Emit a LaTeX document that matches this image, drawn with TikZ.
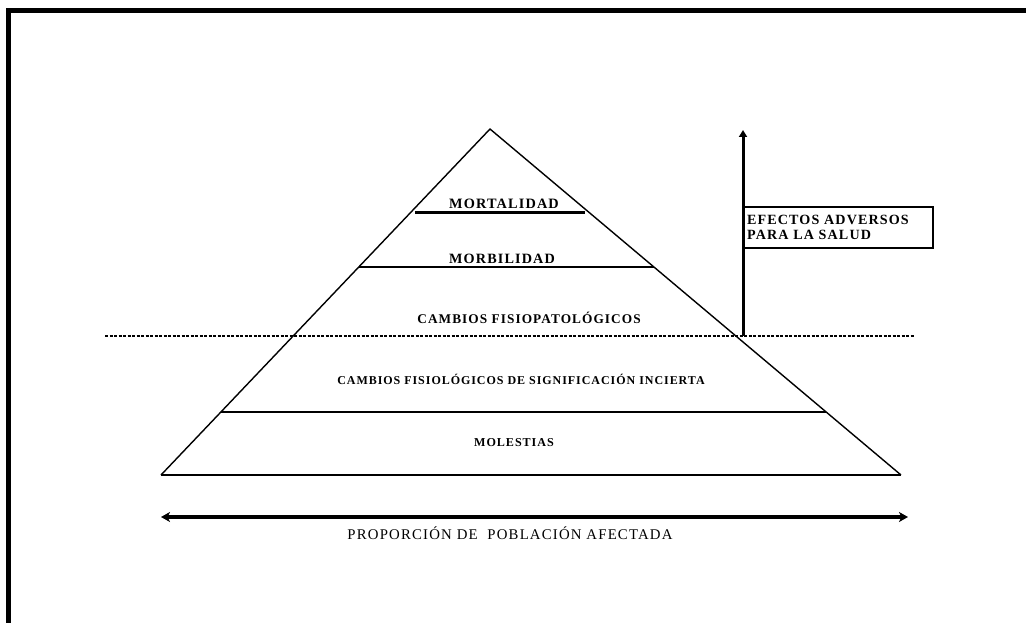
\documentclass[tikz,border=0pt]{standalone}
\usepackage{fontspec}
\setmainfont{Liberation Serif}
\newfontfamily\levelfont[LetterSpace=8]{Liberation Serif}
\newfontfamily\axisfont[LetterSpace=8]{Liberation Serif}
\usetikzlibrary{arrows.meta,calc}

\begin{document}
\begin{tikzpicture}[x=1pt,y=-1pt,
   level/.style={font=\levelfont\bfseries\fontsize{#1}{#1}\selectfont, inner sep=0pt, anchor=base},
   layer/.style={line width=1.4pt},
   axis/.style={line width=3.4pt, {Stealth[length=9pt,width=10pt,inset=2.5pt]}-{Stealth[length=9pt,width=10pt,inset=2.5pt]}},
   rise/.style={line width=3pt, -{Triangle[length=7pt,width=8pt]}},
   note/.style={draw, line width=2.2pt, anchor=north west, font=\levelfont\bfseries\fontsize{14.1}{15.5}\selectfont,
                align=left, text width=183pt, inner xsep=3pt, minimum height=41pt}]
   \useasboundingbox (0,0) rectangle (1026,623);
   \draw[line width=4.5pt] (8.5,623) -- (8.5,10.5) -- (1026,10.5);

   \coordinate (top) at (490,129);
   \coordinate (bl) at (161,475);
   \coordinate (br) at (901,475);
   \draw[layer] (bl) -- (top) -- (br);
   \draw[line width=2pt] (bl) -- (br);
   \draw[line width=3pt, shorten <=4pt, shorten >=4pt] ($(top)!.24!(bl)$) -- ($(top)!.24!(br)$);
   \draw[layer] ($(top)!.399!(bl)$) -- ($(top)!.399!(br)$);
   \draw[layer] ($(top)!.818!(bl)$) -- ($(top)!.818!(br)$);

   \node[level=14.3] (mort) at (504,208) {MORTALIDAD};
   \node[level=14.2] (morb) at (502,263) {MORBILIDAD};
   \node[level=13.3] (fisiopat) at (529,323) {CAMBIOS FISIOPATOLÓGICOS};
   \node[level=12] (fisiol) at (521,384) {CAMBIOS FISIOLÓGICOS DE SIGNIFICACIÓN INCIERTA};
   \node[level=12.1] (molest) at (514,446) {MOLESTIAS};

   \coordinate (cutl) at (105,336);
   \coordinate (cutr) at (915,336);
   \draw[line width=1.4pt, dash pattern=on 3pt off 1.5pt] (cutl) -- (cutr);

   \coordinate (foot) at (743,336);
   \coordinate (tip) at (743,130);
   \draw[rise] (foot) -- (tip);
   \node[note] (efectos) at (743,206) {EFECTOS ADVERSOS\\PARA LA SALUD};

   \coordinate (axl) at (161,517);
   \coordinate (axr) at (908,517);
   \draw[axis] (axl) -- (axr);
   \node[font=\axisfont\fontsize{14.8}{14.8}\selectfont, inner sep=0pt, anchor=base] (prop) at (510,539) {PROPORCIÓN DE \ POBLACIÓN AFECTADA};
\end{tikzpicture}
\end{document}
